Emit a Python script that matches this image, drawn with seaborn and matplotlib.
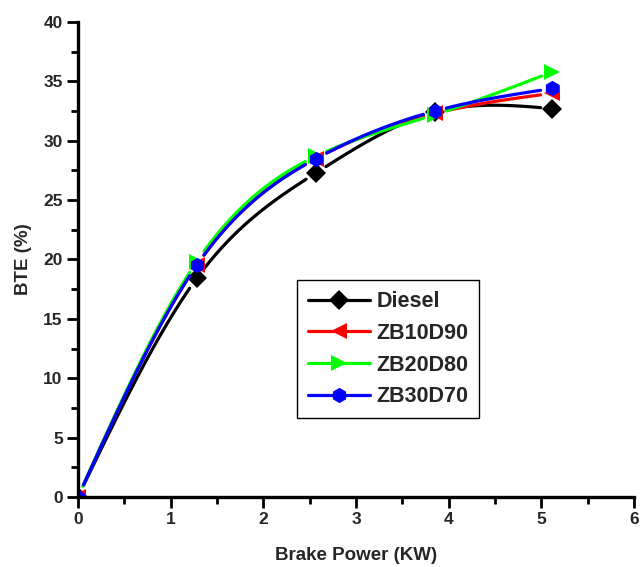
import numpy as np
import pandas as pd
import matplotlib
matplotlib.use("Agg")
import matplotlib.pyplot as plt
import seaborn as sns
from matplotlib.lines import Line2D
from matplotlib.ticker import MultipleLocator

# Brake thermal efficiency versus brake power for each fuel blend
power = [0.0, 1.28, 2.57, 3.85, 5.12]
bte_diesel = [0.0, 18.4, 27.3, 32.4, 32.7]
bte_zb10d90 = [0.0, 19.5, 28.5, 32.3, 34.0]
bte_zb20d80 = [0.0, 19.8, 28.7, 32.2, 35.8]
bte_zb30d70 = [0.0, 19.5, 28.5, 32.5, 34.4]

fuels = ["Diesel", "ZB10D90", "ZB20D80", "ZB30D70"]
series = [bte_diesel, bte_zb10d90, bte_zb20d80, bte_zb30d70]
colors = ["#000000", "#FF0000", "#00FF00", "#0000FF"]
markers = ["D", "<", ">", "h"]
marker_sizes = [10, 11, 11, 11]


def natural_spline(x, y, xs):
    """Evaluate a natural cubic spline through (x, y) at xs."""
    x = np.asarray(x, float)
    y = np.asarray(y, float)
    n = len(x)
    h = np.diff(x)
    A = np.zeros((n, n))
    rhs = np.zeros(n)
    A[0, 0] = A[-1, -1] = 1.0
    for i in range(1, n - 1):
        A[i, i - 1] = h[i - 1]
        A[i, i] = 2 * (h[i - 1] + h[i])
        A[i, i + 1] = h[i]
        rhs[i] = 3 * ((y[i + 1] - y[i]) / h[i] - (y[i] - y[i - 1]) / h[i - 1])
    c = np.linalg.solve(A, rhs)
    b = (y[1:] - y[:-1]) / h - h * (2 * c[:-1] + c[1:]) / 3
    d = (c[1:] - c[:-1]) / (3 * h)
    idx = np.clip(np.searchsorted(x, xs, side="right") - 1, 0, n - 2)
    t = xs - x[idx]
    return y[idx] + b[idx] * t + c[idx] * t ** 2 + d[idx] * t ** 3


sns.set_style("ticks")
plt.rcParams["font.family"] = ["Liberation Sans", "DejaVu Sans"]
plt.rcParams["font.weight"] = "bold"

fig = plt.figure(figsize=(6.44, 5.67), dpi=100)
ax = fig.add_axes([0.1211, 0.1235, 0.8634, 0.8377])
ax.set_xlim(0, 6)
ax.set_ylim(0, 40)

# Smooth curves, broken around each marker
gap_px = 11.5
curve_frames = []
for name, vals in zip(fuels, series):
    xs = np.linspace(power[0], power[-1], 600)
    ys = natural_spline(power, vals, xs)
    disp = ax.transData.transform(np.column_stack([xs, ys]))
    pts = ax.transData.transform(np.column_stack([power, vals]))
    dist = np.min(np.hypot(disp[:, None, 0] - pts[None, :, 0],
                           disp[:, None, 1] - pts[None, :, 1]), axis=1)
    keep = dist > gap_px
    seg = np.cumsum(np.r_[0, np.diff(keep.astype(int)) != 0])
    curve_frames.append(pd.DataFrame({"power": xs[keep], "bte": ys[keep],
                                      "fuel": name, "seg": seg[keep]}))
curves = pd.concat(curve_frames, ignore_index=True)

points = pd.DataFrame({
    "power": np.tile(power, len(fuels)),
    "bte": np.concatenate(series),
    "fuel": np.repeat(fuels, len(power)),
})

palette = dict(zip(fuels, colors))
for name, mk, ms in zip(fuels, markers, marker_sizes):
    sns.lineplot(data=curves[curves["fuel"] == name], x="power", y="bte",
                 units="seg", estimator=None, color=palette[name],
                 linewidth=2.3, ax=ax, legend=False, sort=False)
    sns.lineplot(data=points[points["fuel"] == name], x="power", y="bte",
                 color=palette[name], linestyle="none", marker=mk,
                 markersize=ms, markeredgewidth=0, ax=ax, legend=False)

# Axes styling
for side in ["top", "right"]:
    ax.spines[side].set_visible(False)
for side in ["left", "bottom"]:
    ax.spines[side].set_linewidth(2.4)
    ax.spines[side].set_color("black")

ax.xaxis.set_major_locator(MultipleLocator(1))
ax.xaxis.set_minor_locator(MultipleLocator(0.5))
ax.yaxis.set_major_locator(MultipleLocator(5))
ax.yaxis.set_minor_locator(MultipleLocator(2.5))
ax.tick_params(which="major", direction="out", length=8, width=2.0,
               labelsize=12.5, pad=3, color="black")
ax.tick_params(which="minor", direction="out", length=5, width=2.0,
               color="black")
for lab in ax.get_xticklabels() + ax.get_yticklabels():
    lab.set_fontweight("bold")

ax.set_xlabel("Brake Power (KW)", fontsize=13.5, fontweight="bold", labelpad=14)
ax.set_ylabel("BTE (%)", fontsize=13.5, fontweight="bold", labelpad=8)

handles = [Line2D([], [], color=c, marker=m, markersize=ms, linewidth=2.3,
                  markeredgewidth=0)
           for c, m, ms in zip(colors, markers, marker_sizes)]
leg = ax.legend(handles, fuels, loc="lower left",
                bbox_to_anchor=(0.394, 0.166), borderaxespad=0,
                frameon=True, fancybox=False, framealpha=1,
                edgecolor="black", handlelength=2.9, handletextpad=0.3,
                labelspacing=0.5, borderpad=0.5,
                prop={"size": 15.5, "weight": "bold"})
leg.get_frame().set_linewidth(1.0)

fig.savefig("out.png", dpi=100)
